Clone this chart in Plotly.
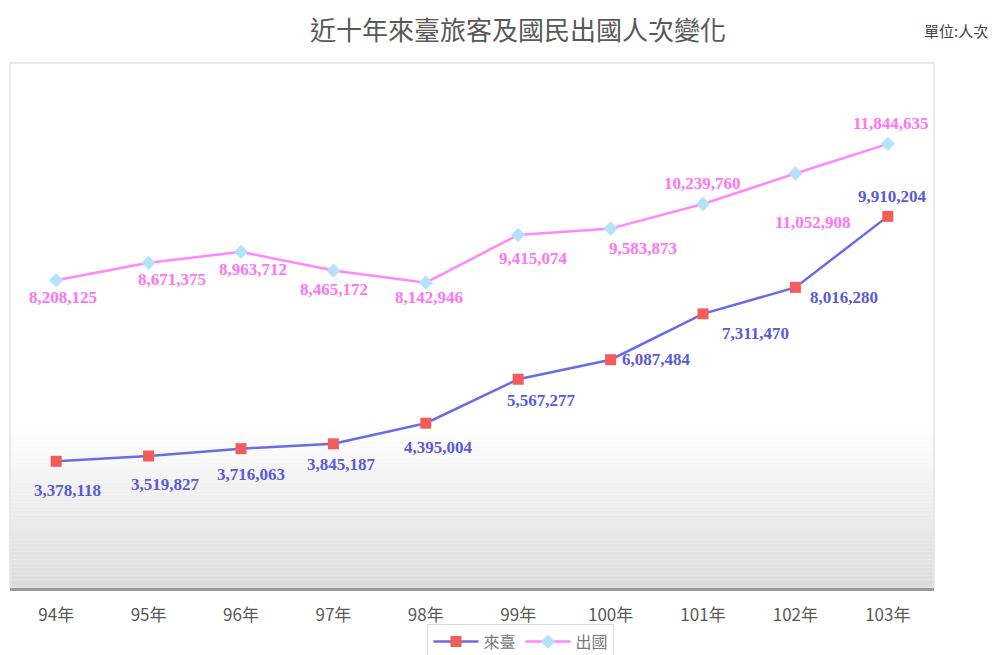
import plotly.graph_objects as go

# ---- data ----
years = ["94年", "95年", "96年", "97年", "98年", "99年", "100年", "101年", "102年", "103年"]
inbound = [3378118, 3519827, 3716063, 3845187, 4395004, 5567277, 6087484, 7311470, 8016280, 9910204]
outbound = [8208125, 8671375, 8963712, 8465172, 8142946, 9415074, 9583873, 10239760, 11052908, 11844635]
series_names = ["來臺", "出國"]
title_text = "近十年來臺旅客及國民出國人次變化"
unit_text = "單位:人次"

# label pixel offsets (style only)
in_dx = [11, 17, 10, 8, 13, 23, 46, 52, 49, 5]
in_dy = [29, 28, 26, 21, 24, 21, 0, 20, 10, -20]
out_dx = [7, 23, 12, 1, 3, 15, 32, -1, 18, 3]
out_dy = [17, 17, 18, 19, 15, 24, 20, -21, 49, -20]

IN_LINE = "#6b6be8"
IN_MARK = "#f45c5c"
IN_TEXT = "#5a5ad8"
OUT_LINE = "#ff88ff"
OUT_MARK = "#b4e2fa"
OUT_TEXT = "#ff74f4"
LABEL_FONT = "Liberation Serif, DejaVu Serif, serif"

fig = go.Figure()
fig.add_trace(go.Scatter(
    x=years, y=inbound, name=series_names[0], mode="lines+markers",
    line=dict(color=IN_LINE, width=2.5),
    marker=dict(symbol="square", size=11, color=IN_MARK),
))
fig.add_trace(go.Scatter(
    x=years, y=outbound, name=series_names[1], mode="lines+markers",
    line=dict(color=OUT_LINE, width=2.5),
    marker=dict(symbol="diamond", size=11, color=OUT_MARK),
))

annotations = []
for i, yv in enumerate(inbound):
    annotations.append(dict(x=years[i], y=yv, xref="x", yref="y", text=f"<b>{yv:,}</b>",
                            showarrow=False, xshift=in_dx[i], yshift=-in_dy[i],
                            font=dict(family=LABEL_FONT, size=17, color=IN_TEXT)))
for i, yv in enumerate(outbound):
    annotations.append(dict(x=years[i], y=yv, xref="x", yref="y", text=f"<b>{yv:,}</b>",
                            showarrow=False, xshift=out_dx[i], yshift=-out_dy[i],
                            font=dict(family=LABEL_FONT, size=17, color=OUT_TEXT)))

annotations.append(dict(x=0.5, y=1, xref="paper", yref="paper", text=title_text, showarrow=False,
                        xanchor="center", yanchor="middle", yshift=35, xshift=46,
                        font=dict(family="Noto Sans CJK TC", size=26, color="#595959")))
annotations.append(dict(x=1, y=1, xref="paper", yref="paper", text=unit_text, showarrow=False,
                        xanchor="right", yanchor="middle", xshift=56, yshift=33,
                        font=dict(family="Noto Sans CJK TC", size=15, color="#404040")))

# gradient background bands in lower part of plot area
shapes = []
n = 40
top_frac = 0.31
for k in range(n):
    y0 = top_frac * k / n
    y1 = top_frac * (k + 1) / n
    t = (k + 0.5) / n  # 0 bottom -> 1 top
    g = int(round(220 + (255 - 220) * t))
    shapes.append(dict(type="rect", xref="paper", yref="paper", x0=0, x1=1, y0=y0, y1=y1,
                       fillcolor=f"rgb({g},{g},{g})", line=dict(width=0), layer="below"))
shapes.append(dict(type="rect", xref="paper", yref="paper", x0=0, x1=1, y0=0, y1=1,
                   line=dict(color="#e3e3e3", width=1.5), fillcolor="rgba(0,0,0,0)", layer="below"))

# page body has an 8px margin, so the figure is drawn 8px smaller and offset
fig.update_layout(
    width=992, height=647,
    margin=dict(l=2, r=66, t=55, b=67, autoexpand=False),
    paper_bgcolor="white", plot_bgcolor="white",
    showlegend=True,
    legend=dict(orientation="h", x=0.553, xanchor="center", y=-0.068, yanchor="top",
                bordercolor="#d9d9d9", borderwidth=1, bgcolor="white",
                font=dict(family="Noto Sans CJK TC", size=16, color="#7a7a7a"),
                itemwidth=45, tracegroupgap=0),
    xaxis=dict(showgrid=False, zeroline=False, showline=True, linecolor="#9a9a9a", linewidth=2.5,
               range=[-0.5, len(years) - 0.5],
               ticks="outside", ticklen=10, tickcolor="rgba(0,0,0,0)",
               tickfont=dict(family="Noto Sans CJK TC", size=17, color="#595959"),
               fixedrange=True, automargin=False),
    yaxis=dict(range=[0, 14000000], visible=False, showgrid=False, fixedrange=True),
    annotations=annotations,
    shapes=shapes,
)

fig.write_html("out.html")
